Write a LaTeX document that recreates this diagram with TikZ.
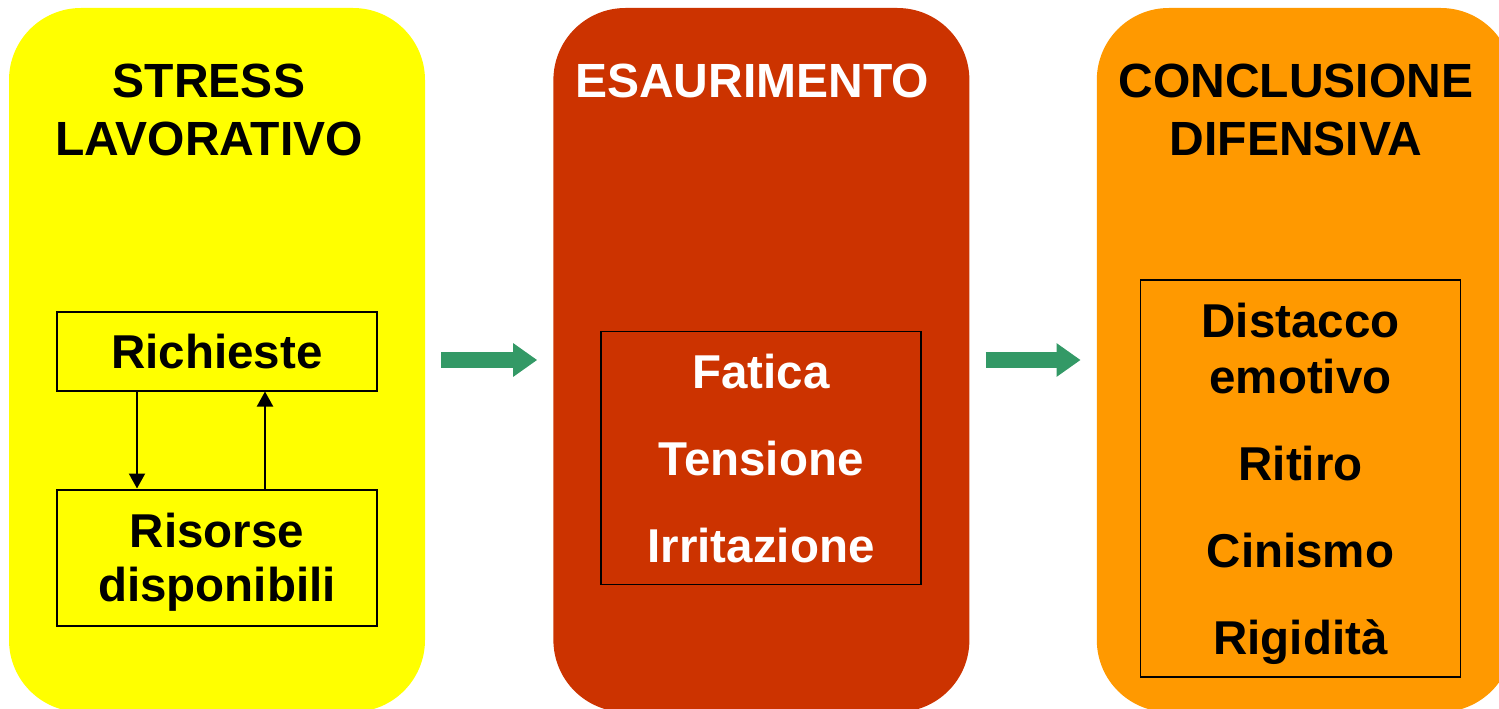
\documentclass[tikz,border=0pt]{standalone}
\usepackage{fontspec}
\setmainfont{Liberation Sans}
\usetikzlibrary{arrows.meta, positioning, calc}
\definecolor{stressyellow}{HTML}{FFFF00}
\definecolor{burnoutred}{HTML}{CC3300}
\definecolor{defenseorange}{HTML}{FF9900}
\definecolor{flowgreen}{HTML}{339966}
\tikzstyle{arrow} = [line width=2pt,-{Triangle[length=15pt,width=16pt]}]

\begin{document}
\begin{tikzpicture}[
        x=1pt, y=-1pt,
        every node/.style={font=\bfseries\fontsize{47.5}{56}\selectfont, align=center},
        panel/.style={rounded corners=72pt, minimum width=416pt, minimum height=704pt, inner sep=0pt},
        title/.style={anchor=base, font=\bfseries\fontsize{48}{58}\selectfont},
        itembox/.style={draw, line width=2pt, minimum width=320pt, inner sep=0pt, text depth=0pt},
        flow/.style={draw=flowgreen, line width=16pt, -{Triangle[length=24pt,width=32pt]}, shorten <=16pt, shorten >=16pt}
      ]
        \clip (0,0) rectangle (1499,709);

        % Panels
        \node (stress) [panel, fill=stressyellow] at (217,360) {};
        \node (burnout) [panel, fill=burnoutred, right=128pt of stress] {};
        \node (defense) [panel, fill=defenseorange, right=127pt of burnout] {};

        % Titles
        \node (stress_title) [title] at (209,155) {STRESS\\LAVORATIVO};
        \node (burnout_title) [title, text=white] at (752,97) {ESAURIMENTO};
        \node (defense_title) [title] at (1296,155) {CONCLUSIONE\\DIFENSIVA};

        % Stress boxes
        \node (demands) [itembox, minimum height=79pt, text depth=-3pt] at (217,351) {Richieste};
        \node (resources) [itembox, minimum height=136pt, below=97pt of demands] {Risorse\\[-2pt]disponibili};
        \draw [arrow] ([xshift=-80pt]demands.south) -- ([xshift=-80pt]resources.north);
        \draw [arrow] ([xshift=48pt]resources.north) -- ([xshift=48pt]demands.south);

        % Symptoms and reactions
        \node (symptoms) [itembox, line width=1.5pt, minimum height=253pt, text=white, text depth=-2pt] at (761,458) {Fatica\\[31pt]Tensione\\[31pt]Irritazione};
        \node (reactions) [itembox, line width=1.3pt, minimum height=397pt] at (1300.5,478.5) {Distacco\\emotivo\\[31pt]Ritiro\\[31pt]Cinismo\\[31pt]Rigidità};

        % Flow arrows
        \draw [flow] (stress) -- (burnout);
        \draw [flow] (burnout) -- (defense);
      \end{tikzpicture}
\end{document}
